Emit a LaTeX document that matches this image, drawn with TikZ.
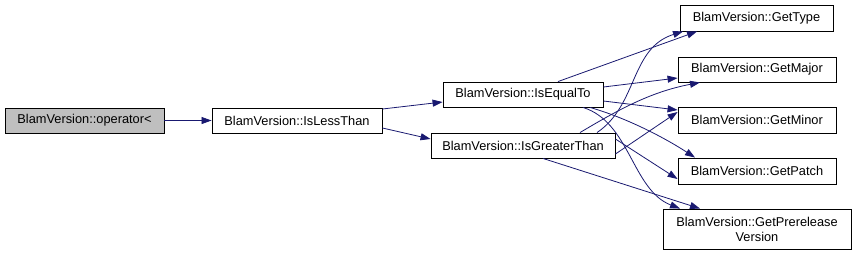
\documentclass[tikz,border=0pt]{standalone}
\usepackage{fontspec}
\setmainfont{Liberation Sans}
\usetikzlibrary{arrows.meta,calc}
\definecolor{edgecol}{HTML}{191970}
\definecolor{curfill}{HTML}{BFBFBF}
\tikzset{
  fn/.style={draw=black, line width=0.9pt, fill=white, rectangle, inner sep=0pt,
    minimum height=25pt, font=\fontsize{12.8}{15}\selectfont, align=center},
  call/.style={draw=edgecol, line width=0.8pt, -{Triangle[length=10pt,width=7pt]}},
}
\begin{document}
\begin{tikzpicture}[x=1pt,y=-1pt]
\useasboundingbox (0,0) rectangle (856,255);
\node[fn, fill=curfill, minimum width=159pt] (op) at (84.5,120.5) {BlamVersion::operator<};
\node[fn, minimum width=170pt] (lt) at (297,120.5) {BlamVersion::IsLessThan};
\node[fn, minimum width=160pt] (eq) at (523,94.5) {BlamVersion::IsEqualTo};
\node[fn, minimum width=184pt] (gt) at (523,145.5) {BlamVersion::IsGreaterThan};
\node[fn, minimum width=153pt, minimum height=26pt] (type) at (756.5,18) {BlamVersion::GetType};
\node[fn, minimum width=158pt] (major) at (757,69.5) {BlamVersion::GetMajor};
\node[fn, minimum width=158pt, minimum height=26pt] (minor) at (757,120) {BlamVersion::GetMinor};
\node[fn, minimum width=158pt, minimum height=26pt] (patch) at (757,171) {BlamVersion::GetPatch};
\node[fn, minimum width=188pt, minimum height=40pt] (pre) at (757,229) {BlamVersion::GetPrerelease\\Version};

\draw[call] (op.east) -- (lt.west);
\draw[call] ([yshift=11.5pt]lt.east) -- ([yshift=-7.5pt]eq.west);
\draw[call] ([yshift=-7.5pt]lt.east) -- ([yshift=6.5pt]gt.west);

\draw[call] ([xshift=35pt]eq.north) -- ([xshift=-59.5pt]type.south);
\draw[call] ([yshift=7.5pt]eq.east) -- ([yshift=-8.5pt]major.west);
\draw[call] ([yshift=-6.5pt]eq.east) -- ([yshift=10pt]minor.west);
\draw[call] ([xshift=67pt]eq.south) .. controls (627,118) and (665,138) .. ([xshift=-62pt]patch.north);
\draw[call] ([xshift=60pt]eq.south) .. controls (630,122) and (632,190) .. ([xshift=-77pt]pre.north);

\draw[call] ([xshift=74pt]gt.north) .. controls (638,105) and (630,48) .. ([xshift=-73.5pt]type.south);
\draw[call] ([xshift=57pt]gt.north) .. controls (618,110) and (650,92) .. ([xshift=-57pt]major.south);
\draw[call] ([yshift=-8.5pt]gt.east) -- ([yshift=8pt]minor.west);
\draw[call] ([yshift=6.5pt]gt.east) -- ([yshift=-8pt]patch.west);
\draw[call] ([xshift=20pt]gt.south) -- ([xshift=-57pt]pre.north);
\end{tikzpicture}
\end{document}
